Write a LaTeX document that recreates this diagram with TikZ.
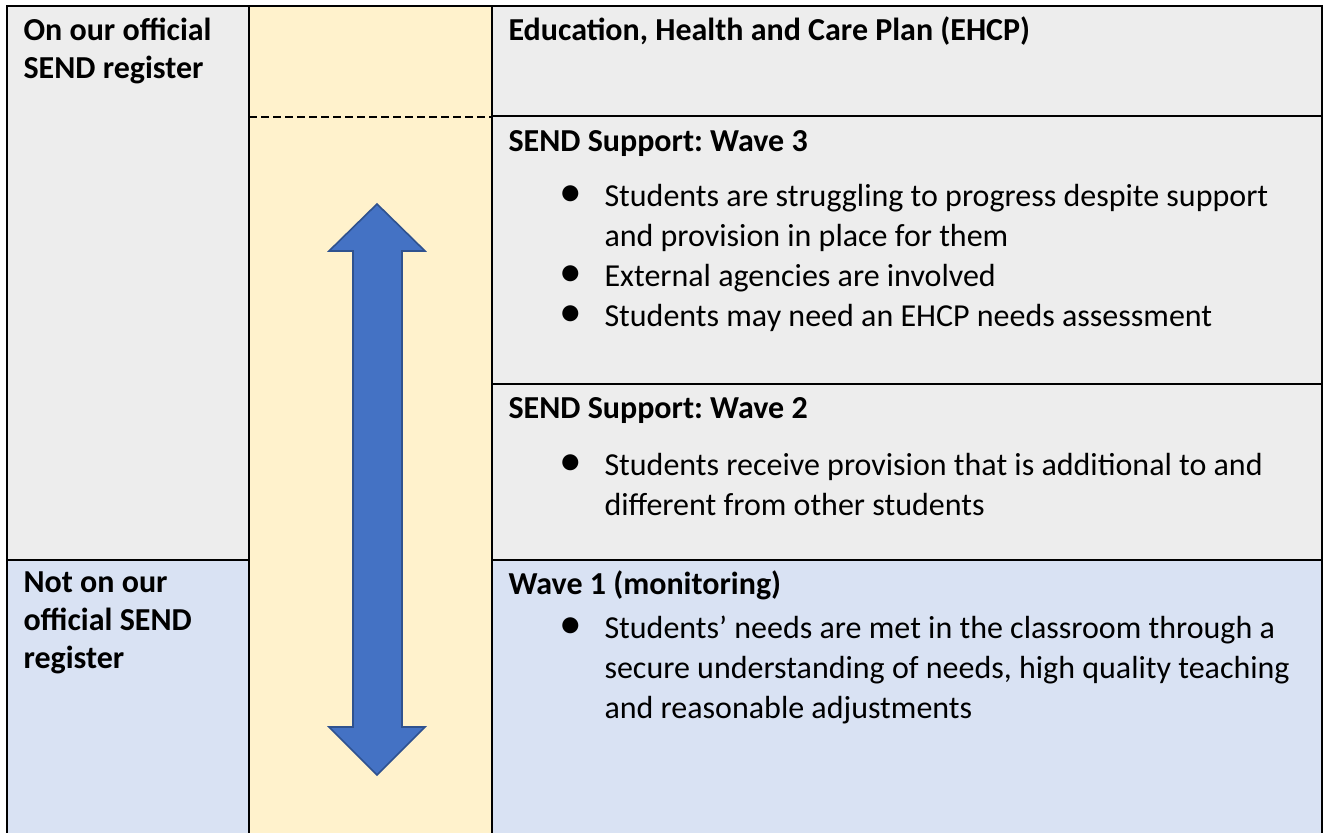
\documentclass[tikz,border=0pt]{standalone}
\usepackage{fontspec}
\setmainfont{Carlito}
\usepackage{xcolor}
\frenchspacing
\definecolor{cellgray}{HTML}{EDEDED}
\definecolor{cellyellow}{HTML}{FFF2CC}
\definecolor{cellblue}{HTML}{D9E2F3}
\definecolor{arrowfill}{HTML}{4472C4}
\definecolor{arrowline}{HTML}{2F528F}
\tikzset{
  gridline/.style={line width=0.75pt},
  rowhead/.style={anchor=base west, inner sep=0pt, font=\bfseries\fontsize{12}{15}\selectfont},
  sidehead/.style={anchor=base west, inner sep=0pt, align=left, font=\bfseries\fontsize{12}{14.25}\selectfont},
  bullettext/.style={anchor=base west, inner sep=0pt, align=left, font=\fontsize{12}{15}\selectfont},
  bulletmark/.style={inner sep=0pt, font=\fontsize{17}{17}\selectfont},
}

\begin{document}
\begin{tikzpicture}[x=0.375pt,y=-0.375pt]
        \useasboundingbox (0,0) rectangle (1324,833);
        \fill[cellgray] (7,6) rectangle (249,560);
        \fill[cellblue] (7,560) rectangle (249,833);
        \fill[cellyellow] (249,6) rectangle (492,833);
        \fill[cellgray] (492,6) rectangle (1322,560);
        \fill[cellblue] (492,560) rectangle (1322,833);
        \draw[gridline] (7,833) -- (7,6) -- (1322,6) -- (1322,833);
        \draw[gridline] (249,6) -- (249,833);
        \draw[gridline] (492,6) -- (492,833);
        \draw[gridline] (492,116) -- (1322,116);
        \draw[line width=1pt,dash pattern=on 3pt off 1.5pt] (249,117) -- (492,117);
        \draw[gridline] (492,384) -- (1322,384);
        \draw[gridline] (7,560) -- (249,560);
        \draw[gridline] (492,560) -- (1322,560);
        \draw[fill=arrowfill,draw=arrowline,line width=0.6pt,line join=miter]
            (377,204) -- (425,251) -- (402,251) -- (402,727) -- (425,727) -- (377,775)
            -- (329,727) -- (353,727) -- (353,251) -- (329,251) -- cycle;
        \node[sidehead] (onreg) at (23,78) {On our official\\SEND register};
        \node[sidehead] (offreg) at (23,668) {Not on our\\official SEND\\register};
        \node[rowhead] (ehcp) at (508,40) {Education, Health and Care Plan (EHCP)};
        \node[rowhead] (wavethree) at (508,151) {SEND Support: Wave 3};
        \node[bulletmark] (dotthreea) at (571,196) {•};
        \node[bullettext] (threea) at (604,246) {Students are struggling to progress despite support\\and provision in place for them};
        \node[bulletmark] (dotthreeb) at (571,276) {•};
        \node[bullettext] (threeb) at (604,286) {External agencies are involved};
        \node[bulletmark] (dotthreec) at (571,316) {•};
        \node[bullettext] (threec) at (604,326) {Students may need an EHCP needs assessment};
        \node[rowhead] (wavetwo) at (508,418) {SEND Support: Wave 2};
        \node[bulletmark] (dottwo) at (571,465) {•};
        \node[bullettext] (two) at (604,515) {Students receive provision that is additional to and\\different from other students};
        \node[rowhead] (waveone) at (508,594) {Wave 1 (monitoring)};
        \node[bulletmark] (dotone) at (571,628) {•};
        \node[bullettext] (one) at (604,718) {Students’ needs are met in the classroom through a\\secure understanding of needs, high quality teaching\\and reasonable adjustments};
    \end{tikzpicture}
\end{document}
